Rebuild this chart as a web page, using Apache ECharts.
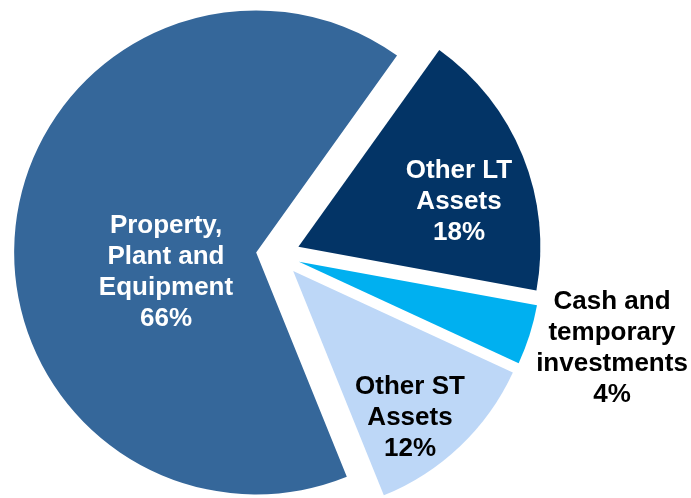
<!DOCTYPE html>
<html>
<head>
<meta charset="utf-8">
<script src="https://cdn.jsdelivr.net/npm/echarts@6/dist/echarts.min.js"></script>
<style>
  html, body { margin: 0; padding: 0; background: #ffffff; }
  #chart { width: 691px; height: 498px; }
</style>
</head>
<body>
<div id="chart"></div>
<script>
// Asset mix, in percent of total assets (clockwise from the upper right)
const categories = ['Other LT\nAssets', 'Cash and\ntemporary\ninvestments', 'Other ST\nAssets', 'Property,\nPlant and\nEquipment'];
const shares = [18, 4, 12, 66];

const sliceColors = ['#033466', '#00B0F0', '#BDD7F7', '#35679A'];
const labelColors = ['#ffffff', '#000000', '#000000', '#ffffff'];
// label centres in pixels
const labelSpots = [[459, 202], [612, 348], [410, 418], [166, 272]];

const chart = echarts.init(document.getElementById('chart'), null, { renderer: 'canvas' });

// slice labels: name followed by its share
const labelTexts = categories.map((name, i) => ({
  type: 'text',
  x: labelSpots[i][0],
  y: labelSpots[i][1],
  z: 10,
  silent: true,
  style: {
    text: name + '\n' + shares[i] + '%',
    align: 'center',
    verticalAlign: 'middle',
    fontFamily: 'Liberation Sans, Arial, sans-serif',
    fontWeight: 'bold',
    fontSize: 26,
    lineHeight: 31,
    fill: labelColors[i]
  }
}));

chart.setOption({
  animation: false,
  backgroundColor: '#ffffff',
  graphic: { elements: labelTexts },
  series: [{
    type: 'pie',
    center: [278, 255],
    radius: [0, 242],
    startAngle: 54.4,
    clockwise: true,
    selectedMode: 'multiple',
    selectedOffset: 22,
    avoidLabelOverlap: false,
    emphasis: { disabled: true },
    select: { itemStyle: { borderWidth: 0 } },
    itemStyle: { borderWidth: 0 },
    label: { show: false },
    labelLine: { show: false },
    data: categories.map((name, i) => ({
      name: name,
      value: shares[i],
      selected: true,
      itemStyle: { color: sliceColors[i] }
    }))
  }]
});
</script>
</body>
</html>
